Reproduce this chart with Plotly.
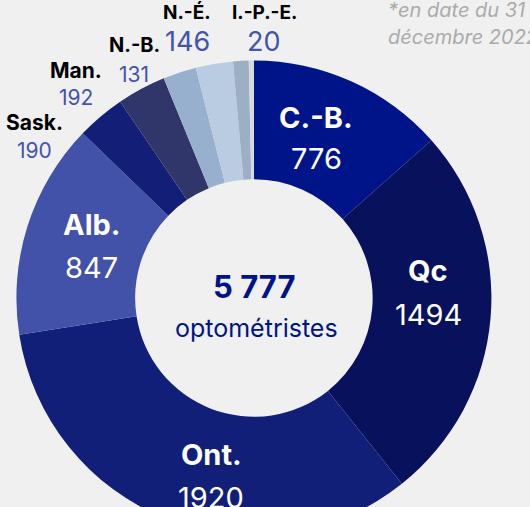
import plotly.graph_objects as go

# ---- data ----
provinces = ["C.-B.", "Qc", "Ont.", "Alb.", "Sask.", "Man.", "N.-B.", "N.-É.", "T.-N.-L.", "I.-P.-E."]
counts = [776, 1494, 1920, 847, 190, 192, 131, 146, 61, 20]
colors = ["#001489", "#07115C", "#111F79", "#4152A8", "#131F76", "#30356A",
          "#97B0CD", "#B9CCE2", "#9DAFC4", "#D6D9DD"]
total_label = "5 777"
total_sub = "optométristes"
footnote_lines = ["*en date du 31", "décembre 2022"]

W, H = 530, 540
BG = "#F0F0F0"
FONT = "Inter"
BLUE = "#4453AC"

cx, cy, r = 253.9, 298.0, 237.5

fig = go.Figure(go.Pie(
    labels=provinces, values=counts, sort=False, direction="clockwise", rotation=0,
    hole=0.5, marker=dict(colors=colors, line=dict(width=0)),
    textinfo="none", hoverinfo="label+value", showlegend=False,
    domain=dict(x=[(cx - r) / W, (cx + r) / W], y=[(H - cy - r) / H, (H - cy + r) / H]),
))

def ann(text, px, py, size, color, bold=False, italic=False, xanchor="center"):
    t = f"<b>{text}</b>" if bold else text
    if italic:
        t = f"<i>{t}</i>"
    fig.add_annotation(x=px / W, y=(H - py) / H, xref="paper", yref="paper",
                       text=t, showarrow=False, xanchor=xanchor, yanchor="middle",
                       font=dict(family=FONT, size=size, color=color))

# inside labels (name, value) from data
inside = {0: (316, 117, 159), 1: (428, 271, 315), 2: (211, 454, 497), 3: (91, 224, 267)}
for i, (px, ny, vy) in inside.items():
    ann(provinces[i], px, ny, 29, "white", bold=True)
    ann(str(counts[i]), px, vy, 29, "white")

# outside labels
outside = {4: (34, 122, 34, 150, 21, 21), 5: (76, 70, 76, 98, 21, 21),
           6: (134, 45, 134, 74, 20, 21), 7: (187, 12, 187, 42, 19, 27),
           9: (264, 12, 264, 42, 19, 27)}
for i, (nx, ny, vx, vy, ns, vs) in outside.items():
    ann(provinces[i], nx, ny, ns, "black", bold=True)
    ann(str(counts[i]), vx, vy, vs, BLUE)

ann(total_label, 254, 286, 31, "#001489", bold=True)
ann(total_sub, 256, 328, 25, "#001489")
for k, line in enumerate(footnote_lines):
    ann(line, 386, 10 + 27 * k, 20, "#AAAAAA", italic=True, xanchor="left")

fig.update_layout(width=W, height=H, margin=dict(l=0, r=0, t=0, b=0),
                  paper_bgcolor=BG, plot_bgcolor=BG)

fig.write_html("out.html", config={"displayModeBar": False}, post_script=(
    "document.body.style.margin='0';document.body.style.overflow='hidden';"
    "document.documentElement.style.overflow='hidden';"))
